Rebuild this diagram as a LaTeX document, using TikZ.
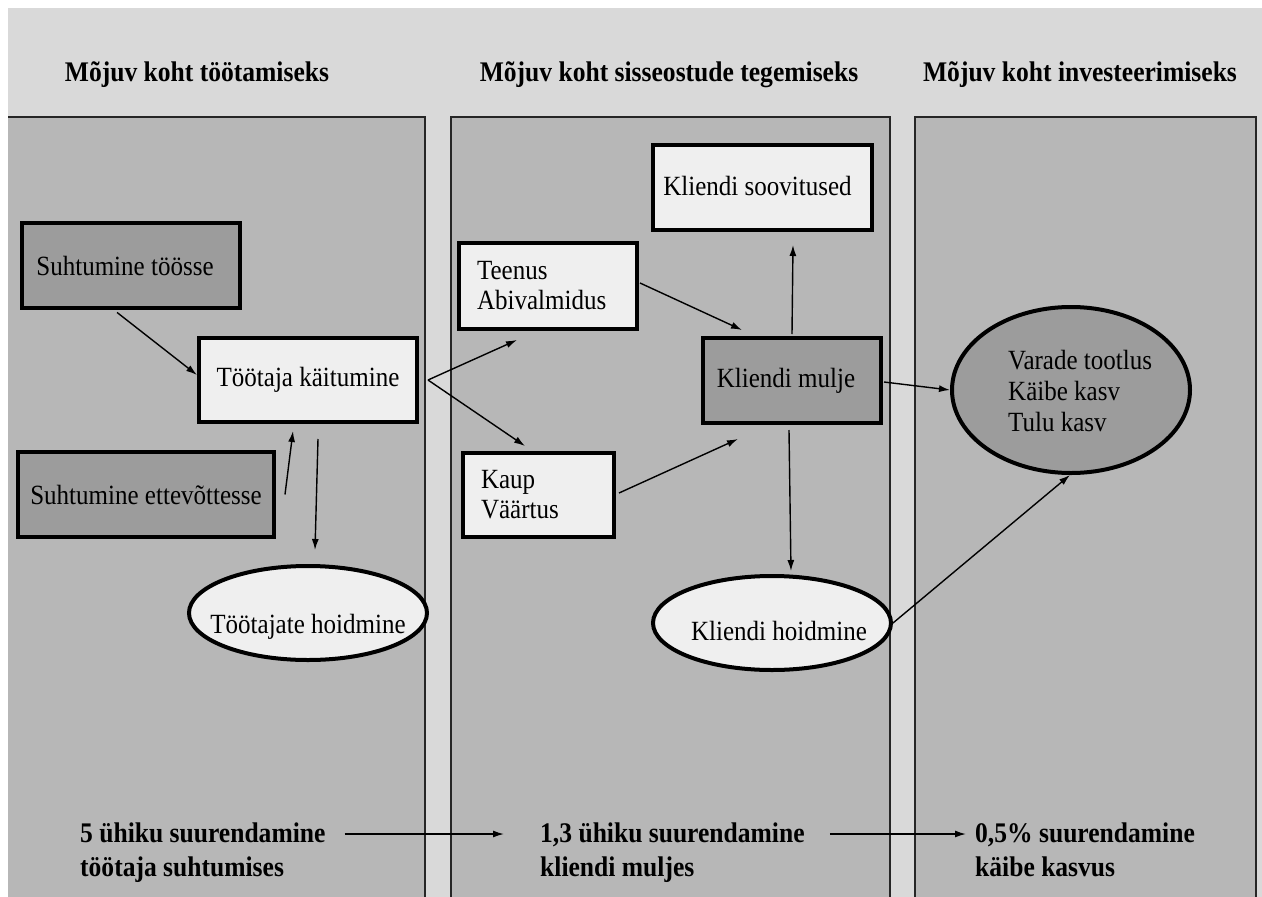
\documentclass[tikz,border=0pt]{standalone}
\usepackage{fontspec}
\setmainfont{Liberation Serif}[FakeStretch=0.9]
\usetikzlibrary{arrows.meta,shapes.geometric,calc}
\definecolor{hdr}{HTML}{D9D9D9}
\definecolor{pnl}{HTML}{B7B7B7}
\definecolor{lite}{HTML}{EFEFEF}
\definecolor{darkbox}{HTML}{9C9C9C}
\tikzset{
  txt/.style={font=\fontsize{27.8}{30}\selectfont, inner sep=0pt},
  hdrtxt/.style={font=\bfseries\fontsize{28.4}{30}\selectfont, inner sep=0pt},
  bottxt/.style={font=\bfseries\fontsize{28.4}{34}\selectfont, inner sep=0pt, align=left, anchor=west},
  box/.style={draw=black, line width=4pt, rectangle, inner sep=0pt, font=\fontsize{27.8}{30}\selectfont},
  litebox/.style={box, fill=lite},
  darkbx/.style={box, fill=darkbox},
  oval/.style={draw=black, line width=4pt, ellipse, inner sep=0pt, font=\fontsize{27.8}{30}\selectfont},
  arr/.style={-{Latex[length=11pt,width=7pt]}, line width=1.4pt, black},
  panelline/.style={line width=1.5pt, black!85}
}
\begin{document}
\begin{tikzpicture}[x=1pt,y=-1pt]
\useasboundingbox (0,0) rectangle (1262,897);
% background
\fill[white] (0,0) rectangle (1262,897);
\fill[hdr] (8,8) rectangle (1262,899);
% panels
\fill[pnl] (8,117) rectangle (425,899);
\draw[panelline] (8,117) -- (425,117) -- (425,899);
\fill[pnl] (451,117) rectangle (890,899);
\draw[panelline] (451,899) -- (451,117) -- (890,117) -- (890,899);
\fill[pnl] (915,117) rectangle (1256,899);
\draw[panelline] (915,899) -- (915,117) -- (1256,117) -- (1256,899);
% headers
\node[hdrtxt] (h1) at (197,75) {Mõjuv koht töötamiseks};
\node[hdrtxt] (h2) at (669,75) {Mõjuv koht sisseostude tegemiseks};
\node[hdrtxt] (h3) at (1080,75) {Mõjuv koht investeerimiseks};
% panel 1
\node[darkbx, minimum width=218pt, minimum height=85pt] (st) at (131,265.5) {Suhtumine töösse\hspace*{12pt}};
\node[darkbx, minimum width=256pt, minimum height=85pt] (se) at (146,494.5) {Suhtumine ettevõttesse};
\node[litebox, minimum width=218pt, minimum height=84pt] (tk) at (308,380) {Töötaja käitumine};
\node[oval, fill=lite, minimum width=238pt, minimum height=94pt] (th) at (308,613) {\raisebox{-20pt}[0pt][0pt]{\makebox[0pt]{Töötajate hoidmine}}};
% panel 2
\node[litebox, minimum height=86pt, text width=142pt, inner xsep=18pt, align=left] (ta) at (548,286) {Teenus\\Abivalmidus};
\node[litebox, minimum height=84pt, text width=115pt, inner xsep=18pt, align=left] (kv) at (538.5,495) {Kaup\\Väärtus};
\node[litebox, minimum width=219pt, minimum height=85pt] (ks) at (762.5,187.5) {\raisebox{3pt}{Kliendi soovitused\hspace*{10pt}}};
\node[darkbx, minimum width=178pt, minimum height=85pt] (km) at (792,380.5) {Kliendi mulje\hspace*{12pt}};
\node[oval, fill=lite, minimum width=238pt, minimum height=94pt] (kh) at (772,623) {\raisebox{-17pt}[0pt][0pt]{\makebox[0pt]{\hspace*{14pt}Kliendi hoidmine}}};
% panel 3
\node[oval, fill=darkbox, minimum width=238pt, minimum height=166pt] (vt) at (1071,390) {};
\node[txt, align=left, anchor=west, font=\fontsize{27.8}{31}\selectfont] (vtx) at (1008,391) {Varade tootlus\\Käibe kasv\\Tulu kasv};
% connectors
\draw[arr, shorten <=4pt] (st.-111) -- ([yshift=5pt]tk.west);
\draw[arr] ([xshift=9pt]se.east) -- ([xshift=-15pt,yshift=-7pt]tk.south);
\draw[arr] ([xshift=10pt,yshift=-15pt]tk.south) -- ([xshift=7pt,yshift=14pt]th.north);
\draw[arr] ([xshift=9pt]tk.east) -- ([xshift=-31pt,yshift=-9pt]ta.south);
\draw[arr] ([xshift=9pt]tk.east) -- ([xshift=-13.5pt,yshift=5pt]kv.north);
\draw[arr] ([xshift=1pt,yshift=3pt]ta.east) -- ([xshift=-50pt,yshift=6pt]km.north);
\draw[arr] ([xshift=3pt,yshift=2pt]kv.east) -- ([xshift=-54pt,yshift=-14pt]km.south);
\draw[arr] ([yshift=2pt]km.north) -- ([xshift=30.5pt,yshift=-13pt]ks.south);
\draw[arr] ([xshift=-3pt,yshift=-5pt]km.south) -- ([xshift=19pt,yshift=3pt]kh.north);
\draw[arr] ([xshift=1pt,yshift=-1.5pt]km.east) -- (vt.west);
\draw[arr] (kh.east) -- ([xshift=-1pt]vt.south);
% bottom
\node[bottxt] (b1) at (80,853) {5 ühiku suurendamine\strut\\töötaja suhtumises\strut};
\node[bottxt] (b2) at (540,853) {1,3 ühiku suurendamine\strut\\kliendi muljes\strut};
\node[bottxt] (b3) at (975,853) {0,5\% suurendamine\strut\\käibe kasvus\strut};
\draw[arr] ([xshift=19pt,yshift=19pt]b1.east) -- ([xshift=-36pt,yshift=19pt]b2.west);
\draw[arr] ([xshift=25pt,yshift=19pt]b2.east) -- ([xshift=-9pt,yshift=19pt]b3.west);
\end{tikzpicture}
\end{document}
